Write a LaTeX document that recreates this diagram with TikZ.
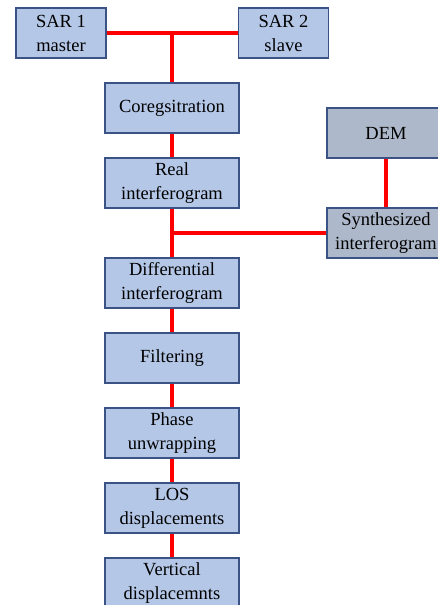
\documentclass[tikz,border=0pt]{standalone}
\usepackage{fontspec}
\setmainfont{Liberation Serif}
\usepackage{xcolor}
\usepackage{tikz}
\usetikzlibrary{
arrows.meta,
positioning,
calc
}

\definecolor{boxblue}{HTML}{B4C7E7}
\definecolor{boxgray}{HTML}{ADB9CA}
\definecolor{boxline}{HTML}{3A5384}

\begin{document}
\begin{tikzpicture}[
x=1pt,y=1pt,
node distance=23.7pt,
box/.style={
draw=boxline,
line width=1.3pt,
fill=boxblue,
minimum width=134pt,
minimum height=50pt,
inner sep=1pt,
align=center,
font=\fontsize{18.5}{24}\selectfont
},
sarbox/.style={box,minimum width=90pt},
graybox/.style={box,fill=boxgray,minimum width=118pt},
link/.style={red,line width=3.2pt}
]

\useasboundingbox (0,0) rectangle (438,-605);

\node[sarbox] (sar1) at (61,-33) {SAR 1\\master};
\node[sarbox] (sar2) at (283.5,-33) {SAR 2\\slave};

\node[box] (coreg) at (172,-108) {Coregsitration};
\node[box,below=of coreg] (real) {Real\\interferogram};
\node[box,below=48.7pt of real] (diff) {Differential\\interferogram};
\node[box,below=of diff] (filt) {Filtering};
\node[box,below=of filt] (unwrap) {Phase\\unwrapping};
\node[box,below=of unwrap] (los) {LOS\\displacements};
\node[box,below=of los] (vert) {Vertical\\displacemnts};

\node[graybox] (dem) at (386,-133) {DEM};
\node[graybox,below=48.7pt of dem] (synth) {Synthesized\\interferogram};

\draw[link] (sar1) -- (sar2);
\draw[link] (coreg) -- (coreg |- sar1);
\draw[link] (coreg) -- (real);
\draw[link] (real) -- (diff);
\draw[link] (dem) -- (synth);
\draw[link] (synth) -- (synth -| real);
\draw[link] (diff) -- (filt);
\draw[link] (filt) -- (unwrap);
\draw[link] (unwrap) -- (los);
\draw[link] (los) -- (vert);

\end{tikzpicture}
\end{document}
